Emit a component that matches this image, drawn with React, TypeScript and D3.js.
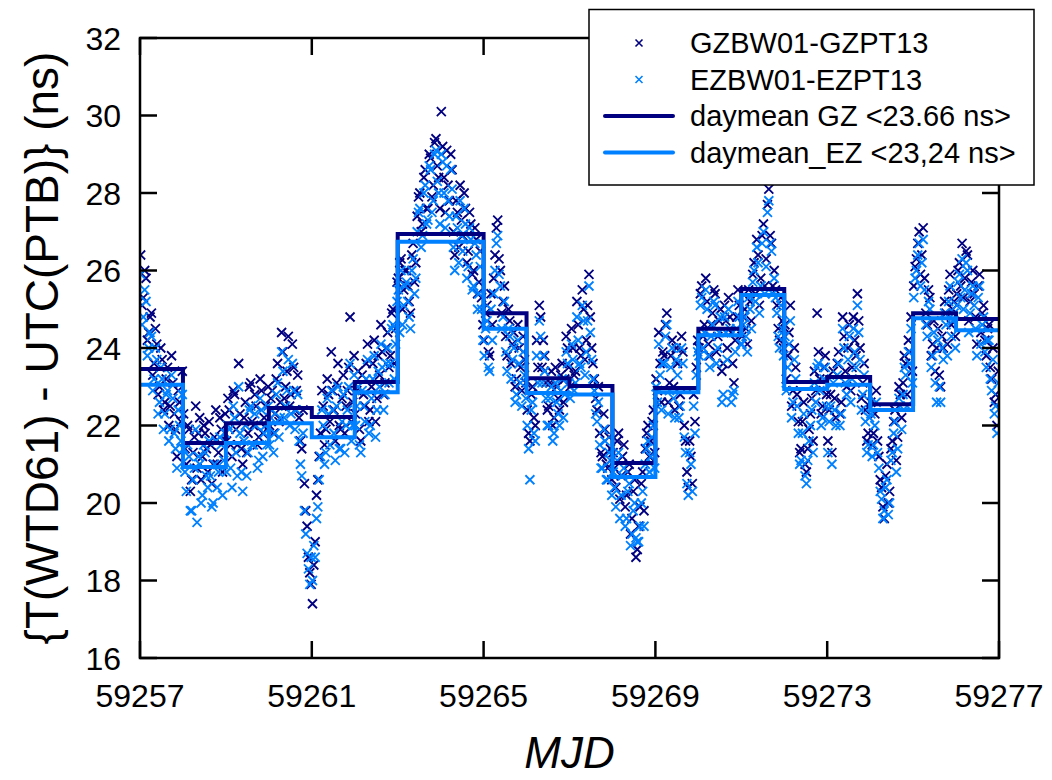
import React from "react";
import * as d3 from "d3";

const width = 1052,
  height = 780;
const plot = { left: 140, right: 999, top: 38, bottom: 658 };

const xTicks = [59257, 59261, 59265, 59269, 59273, 59277];
const yTicks = [16, 18, 20, 22, 24, 26, 28, 30, 32];
const days = d3.range(59257, 59277);

// daily means, one per MJD day
const gzDaymean = [23.46, 21.55, 22.06, 22.45, 22.22, 23.12, 26.94, 26.94, 24.9, 23.22, 23.02, 21.03, 22.97, 24.5, 25.52, 23.12, 23.25, 22.55, 24.9, 24.75];
const ezDaymean = [23.05, 20.93, 21.55, 22.06, 21.7, 22.86, 26.74, 26.74, 24.5, 22.84, 22.8, 20.67, 22.86, 24.33, 25.37, 22.94, 23.05, 22.4, 24.77, 24.46];

// samples, 16 per day (every 1.5 h)
const gzSamples = [
  [26.4, 25.3, 25.8, 24.4, 24.9, 23.6, 24.1, 23.0, 23.7, 22.6, 23.5, 22.5, 23.1, 21.9, 22.9, 22.1],
  [22.3, 21.0, 21.9, 20.6, 21.7, 20.9, 22.2, 21.2, 21.8, 20.8, 21.5, 21.0, 22.4, 21.3, 21.9, 21.6],
  [21.6, 22.4, 21.2, 22.8, 21.5, 22.3, 21.0, 22.6, 21.8, 23.1, 22.0, 22.5, 21.7, 22.9, 22.2, 21.9],
  [22.0, 22.9, 22.3, 23.6, 22.6, 23.9, 23.0, 24.3, 22.8, 23.5, 22.9, 22.2, 21.4, 20.5, 19.4, 18.2],
  [17.4, 19.0, 20.6, 21.8, 22.5, 21.9, 22.8, 23.9, 22.4, 23.1, 22.0, 22.7, 21.8, 22.9, 24.8, 22.6],
  [22.3, 23.4, 21.6, 22.8, 23.6, 22.1, 23.0, 24.2, 22.7, 23.3, 23.9, 23.1, 24.4, 23.8, 25.0, 24.5],
  [25.8, 26.3, 25.5, 26.0, 25.2, 26.4, 25.7, 27.4, 28.0, 27.2, 28.6, 27.6, 28.9, 28.2, 29.4, 28.4],
  [30.1, 28.4, 29.1, 27.8, 28.6, 26.4, 27.5, 28.2, 26.9, 27.6, 26.5, 27.2, 26.0, 26.8, 25.7, 25.3],
  [24.2, 25.1, 23.8, 24.6, 26.4, 27.3, 26.0, 25.2, 24.3, 25.0, 23.6, 24.4, 23.2, 24.0, 22.9, 23.7],
  [22.4, 21.6, 23.0, 22.0, 23.5, 24.8, 24.2, 23.1, 22.5, 23.4, 22.2, 23.0, 22.4, 23.6, 23.2, 24.0],
  [23.0, 24.0, 23.4, 24.6, 23.8, 25.0, 24.2, 25.9, 24.0, 23.2, 22.4, 21.8, 21.2, 21.9, 20.9, 21.4],
  [21.3, 20.4, 21.8, 20.7, 21.5, 20.2, 21.0, 19.6, 20.6, 18.8, 19.9, 20.8, 21.4, 22.0, 21.6, 22.4],
  [23.2, 24.4, 22.6, 23.8, 24.9, 23.1, 24.2, 22.4, 23.6, 22.8, 23.9, 21.6, 20.4, 21.2, 22.8, 23.5],
  [24.0, 25.6, 24.6, 25.2, 23.8, 24.9, 25.4, 24.3, 25.0, 23.6, 24.7, 25.3, 24.4, 23.1, 24.8, 25.1],
  [24.3, 25.0, 24.1, 25.2, 25.9, 25.4, 26.4, 25.8, 27.2, 26.3, 28.1, 26.7, 26.0, 25.1, 24.2, 24.7],
  [24.6, 23.8, 25.1, 22.9, 23.5, 22.1, 21.4, 22.6, 20.8, 21.9, 22.7, 23.4, 24.9, 23.2, 22.5, 23.8],
  [21.6, 22.8, 23.4, 22.2, 23.9, 22.6, 24.3, 23.0, 24.6, 23.5, 24.2, 25.4, 24.0, 23.1, 22.4, 21.8],
  [22.6, 21.8, 22.9, 21.2, 20.4, 19.6, 21.0, 20.3, 21.6, 22.4, 21.7, 22.8, 23.1, 23.6, 24.2, 24.8],
  [25.6, 26.3, 27.0, 26.4, 25.8, 24.6, 25.3, 24.1, 23.4, 24.5, 23.0, 24.0, 24.9, 25.5, 24.6, 25.2],
  [25.4, 26.2, 26.7, 25.8, 26.4, 25.2, 26.0, 24.8, 25.6, 24.4, 25.1, 23.8, 24.6, 23.2, 22.6, 22.0],
];

// extra GZ samples, offset by 45 min from the ones above
const gzSamplesB = [
  [25.1, 26.0, 24.2, 24.8, 23.3, 24.5, 22.8, 24.0, 22.4, 23.2, 22.0, 23.8, 22.3, 21.2, 22.6, 23.4],
  [21.4, 22.0, 20.3, 21.3, 22.5, 21.8, 20.6, 22.0, 21.4, 22.1, 20.5, 21.7, 21.0, 22.2, 20.8, 22.3],
  [22.7, 21.5, 22.9, 21.9, 23.6, 21.4, 22.2, 21.3, 23.0, 22.1, 22.8, 21.5, 23.2, 21.8, 22.5, 23.0],
  [22.7, 21.8, 23.2, 22.1, 24.4, 22.7, 23.4, 22.5, 24.1, 22.4, 23.3, 21.6, 22.4, 19.8, 18.6, 17.9],
  [18.4, 20.2, 21.2, 22.9, 21.5, 23.2, 22.1, 22.9, 21.6, 23.6, 21.9, 23.3, 22.5, 23.5, 22.1, 23.8],
  [22.9, 21.9, 23.3, 22.5, 24.1, 22.4, 23.6, 22.1, 23.8, 24.6, 22.8, 24.0, 23.5, 24.9, 23.6, 25.7],
  [26.2, 25.0, 26.0, 25.6, 24.9, 26.7, 26.2, 27.9, 27.0, 28.4, 27.6, 29.0, 27.9, 29.3, 28.7, 27.6],
  [29.2, 27.5, 28.2, 29.0, 27.0, 27.8, 26.6, 27.3, 28.0, 26.2, 27.5, 25.9, 27.1, 25.4, 26.5, 24.6],
  [24.9, 23.9, 25.4, 25.8, 27.1, 26.3, 24.9, 25.6, 23.8, 24.7, 24.1, 23.0, 24.6, 23.5, 24.3, 23.1],
  [21.8, 22.8, 22.2, 24.2, 25.1, 23.5, 23.8, 22.4, 23.1, 22.0, 23.5, 22.7, 23.3, 22.6, 24.3, 23.5],
  [24.5, 23.3, 25.2, 24.0, 25.5, 23.7, 25.1, 24.8, 23.6, 22.7, 23.0, 21.3, 22.3, 21.0, 21.7, 20.6],
  [20.9, 21.6, 20.1, 21.2, 19.9, 20.8, 19.2, 20.3, 18.6, 19.4, 20.5, 19.8, 21.8, 21.2, 22.1, 21.3],
  [22.9, 23.6, 23.9, 24.6, 22.6, 23.8, 23.0, 24.0, 22.5, 24.3, 22.0, 20.8, 21.6, 20.5, 22.1, 24.2],
  [25.4, 24.3, 25.8, 24.1, 24.6, 25.5, 23.9, 24.7, 23.4, 25.1, 24.0, 24.8, 23.6, 24.2, 25.5, 24.4],
  [24.8, 24.5, 25.5, 24.7, 26.2, 26.8, 25.1, 26.9, 25.6, 27.7, 26.9, 25.6, 25.5, 24.5, 25.3, 24.0],
  [23.2, 24.4, 22.5, 24.0, 22.8, 21.3, 22.1, 21.0, 21.4, 22.3, 21.6, 22.9, 23.9, 22.3, 23.5, 22.8],
  [22.4, 21.3, 22.7, 23.6, 22.3, 24.8, 23.4, 24.0, 22.9, 24.8, 23.8, 24.7, 22.7, 23.6, 21.6, 22.5],
  [21.5, 22.3, 21.6, 20.6, 19.9, 20.7, 20.0, 21.4, 22.1, 21.1, 23.0, 22.2, 23.8, 22.8, 23.9, 23.4],
  [26.1, 26.7, 25.9, 27.1, 24.9, 25.5, 23.8, 24.7, 24.0, 23.3, 24.3, 25.2, 24.1, 25.9, 25.0, 24.3],
  [26.0, 25.6, 25.3, 26.5, 24.7, 25.7, 25.4, 24.1, 25.9, 24.9, 24.2, 24.5, 23.5, 24.0, 22.8, 23.4],
];

const ezSamples = [
  [25.9, 24.8, 25.2, 24.0, 24.3, 23.2, 23.7, 22.6, 23.2, 22.3, 22.9, 21.9, 22.7, 21.4, 22.4, 21.6],
  [21.4, 20.3, 21.2, 19.8, 20.9, 19.5, 21.0, 20.2, 21.3, 20.4, 20.7, 20.0, 21.6, 20.8, 21.5, 21.1],
  [20.8, 21.9, 20.4, 22.2, 20.7, 21.8, 20.3, 22.0, 21.3, 22.5, 21.5, 22.0, 21.1, 22.4, 21.8, 21.5],
  [21.5, 22.4, 21.8, 23.1, 22.2, 23.4, 22.5, 23.7, 22.3, 22.9, 22.4, 21.6, 20.7, 19.8, 18.7, 17.9],
  [18.0, 18.6, 19.9, 21.2, 22.0, 21.3, 22.3, 22.9, 21.8, 22.5, 21.4, 22.1, 21.3, 22.4, 23.6, 22.0],
  [22.0, 23.0, 21.3, 22.5, 23.2, 21.8, 22.7, 23.8, 22.4, 23.0, 23.5, 22.8, 24.0, 23.6, 24.6, 24.1],
  [25.5, 26.0, 25.1, 25.7, 24.8, 26.0, 25.4, 27.0, 27.6, 26.9, 28.2, 27.3, 28.6, 27.8, 29.1, 28.0],
  [29.0, 28.0, 28.7, 27.4, 28.1, 26.0, 27.1, 27.8, 26.5, 27.2, 26.1, 26.8, 25.6, 26.4, 25.4, 25.0],
  [23.8, 24.7, 23.4, 24.2, 26.0, 26.9, 25.6, 24.8, 23.9, 24.5, 23.2, 24.0, 22.8, 23.6, 22.5, 23.3],
  [22.0, 20.6, 22.6, 21.6, 23.1, 24.3, 23.8, 22.7, 22.0, 23.0, 21.8, 22.6, 22.0, 23.2, 22.8, 23.6],
  [22.7, 23.7, 23.1, 24.2, 23.5, 24.7, 23.9, 25.6, 23.7, 22.9, 22.1, 21.5, 20.9, 21.6, 20.6, 21.1],
  [20.8, 19.9, 21.3, 20.2, 20.9, 19.6, 20.5, 19.2, 20.0, 19.0, 19.4, 20.3, 21.0, 21.6, 21.2, 22.0],
  [23.0, 24.1, 22.4, 23.6, 24.6, 22.9, 24.0, 22.2, 23.3, 22.5, 23.6, 21.3, 20.2, 21.0, 22.5, 23.3],
  [23.8, 25.3, 24.4, 25.0, 23.5, 24.6, 25.1, 24.0, 24.8, 22.8, 24.4, 25.0, 22.6, 22.9, 24.5, 24.8],
  [24.1, 24.8, 23.9, 25.0, 25.7, 25.2, 26.2, 25.6, 27.0, 26.1, 27.8, 26.5, 25.8, 24.9, 24.0, 24.5],
  [24.3, 23.5, 24.7, 22.6, 23.2, 21.8, 21.1, 22.3, 20.5, 21.6, 22.4, 23.1, 23.5, 22.9, 22.2, 23.5],
  [21.3, 22.5, 23.1, 22.0, 23.6, 22.3, 24.0, 22.8, 24.3, 23.2, 23.9, 25.1, 23.7, 22.8, 22.1, 21.5],
  [22.3, 21.5, 22.6, 20.9, 20.1, 19.8, 20.6, 20.0, 21.3, 22.1, 21.4, 22.5, 22.8, 23.3, 23.9, 24.5],
  [25.3, 26.0, 26.7, 26.2, 25.5, 24.3, 25.0, 23.8, 23.1, 24.2, 22.6, 23.7, 24.6, 25.2, 24.3, 24.9],
  [25.1, 25.9, 26.3, 25.5, 26.0, 24.9, 25.6, 24.5, 25.3, 24.1, 24.8, 23.5, 24.2, 22.9, 22.3, 21.8],
];

// extra EZ samples, offset by 45 min from the ones above
const ezSamplesB = [
  [24.6, 25.5, 23.8, 24.4, 22.9, 24.0, 22.3, 23.5, 21.9, 22.8, 21.6, 23.3, 21.8, 20.9, 22.0, 22.8],
  [20.8, 21.5, 19.8, 20.6, 21.9, 21.2, 20.0, 21.5, 20.7, 21.6, 19.9, 21.0, 20.4, 21.7, 20.2, 21.8],
  [22.0, 20.9, 22.5, 21.3, 23.0, 20.8, 21.6, 20.7, 22.4, 21.5, 22.3, 20.9, 22.7, 21.2, 22.0, 22.5],
  [22.2, 21.3, 22.8, 21.7, 23.9, 22.2, 22.9, 22.0, 23.6, 21.9, 22.8, 21.0, 21.8, 19.2, 18.3, 18.6],
  [18.9, 19.6, 20.6, 22.4, 21.0, 22.7, 21.5, 22.4, 21.1, 23.0, 21.4, 22.8, 22.0, 23.0, 21.6, 23.3],
  [22.5, 21.5, 22.9, 22.1, 23.7, 22.0, 23.2, 21.7, 23.4, 24.1, 22.4, 23.6, 23.1, 24.5, 23.2, 25.2],
  [24.4, 24.6, 25.6, 25.2, 24.5, 26.3, 25.8, 27.5, 26.6, 28.0, 27.2, 28.7, 27.5, 29.0, 28.3, 27.2],
  [28.8, 27.1, 27.8, 28.6, 26.6, 27.4, 26.2, 26.9, 27.6, 25.8, 27.1, 25.5, 26.7, 25.0, 26.1, 24.2],
  [24.5, 23.5, 25.0, 25.4, 26.7, 25.9, 24.5, 25.2, 23.4, 24.3, 23.7, 22.6, 24.2, 23.1, 23.9, 22.7],
  [21.4, 22.4, 21.8, 23.8, 24.7, 23.1, 23.4, 22.0, 22.7, 21.6, 23.1, 22.3, 22.9, 22.2, 23.9, 23.1],
  [24.1, 22.9, 24.8, 23.6, 25.1, 23.3, 24.7, 24.4, 23.2, 22.3, 22.6, 20.9, 21.9, 20.6, 21.3, 20.2],
  [20.4, 21.1, 19.6, 20.7, 19.4, 20.3, 18.9, 19.8, 19.1, 19.0, 20.0, 19.4, 21.4, 20.8, 21.7, 20.9],
  [22.6, 23.3, 23.6, 24.3, 22.3, 23.5, 22.7, 23.7, 22.2, 24.0, 21.7, 20.5, 21.3, 20.3, 21.8, 23.9],
  [25.1, 24.0, 25.5, 23.8, 24.3, 25.2, 23.6, 24.4, 22.6, 24.8, 23.7, 24.5, 22.8, 23.9, 25.2, 24.1],
  [24.6, 24.3, 25.3, 24.5, 26.0, 26.6, 24.9, 26.7, 25.4, 27.5, 26.7, 25.4, 25.3, 24.3, 25.1, 23.8],
  [22.9, 24.1, 22.2, 23.7, 22.5, 21.0, 21.8, 20.7, 21.1, 22.0, 21.3, 22.6, 23.6, 22.0, 23.2, 22.5],
  [22.1, 21.0, 22.4, 23.3, 22.0, 24.5, 23.1, 23.7, 22.6, 24.5, 23.5, 24.4, 22.4, 23.3, 21.3, 22.2],
  [21.2, 22.0, 21.3, 20.3, 19.6, 20.4, 19.7, 21.1, 21.8, 20.8, 22.7, 21.9, 23.5, 22.5, 23.6, 23.1],
  [25.8, 26.4, 25.6, 26.8, 24.6, 25.2, 23.5, 24.4, 22.6, 23.0, 24.0, 24.9, 23.8, 25.6, 24.7, 24.0],
  [25.7, 25.3, 25.0, 26.2, 24.4, 25.4, 25.1, 23.8, 25.6, 24.6, 23.9, 24.2, 23.2, 23.7, 22.5, 23.1],
];

const legendLabels = ["GZBW01-GZPT13", "EZBW01-EZPT13", "daymean GZ <23.66 ns>", "daymean_EZ <23,24 ns>"];

const GZ_COLOR = "#000080";
const EZ_COLOR = "#0080ff";
const FONT = "'Liberation Sans', Arial, sans-serif";

const x = d3.scaleLinear().domain([59257, 59277]).range([plot.left, plot.right]);
const y = d3.scaleLinear().domain([16, 32]).range([plot.bottom, plot.top]);

const toPoints = (samples: number[][], offset: number) =>
  samples.flatMap((vals, i) =>
    vals.map((v, k) => [days[i] + (k + offset) / vals.length, v] as [number, number])
  );

const stepLine = d3
  .line<[number, number]>()
  .x((d) => x(d[0]))
  .y((d) => y(d[1]))
  .curve(d3.curveStepAfter);

const stepPoints = (means: number[]) => [
  ...means.map((m, i) => [days[i], m] as [number, number]),
  [59277, means[means.length - 1]] as [number, number],
];

const cross = (s: number) => `M${-s},${-s}L${s},${s}M${-s},${s}L${s},${-s}`;

const App = () => {
  const gzPts = [...toPoints(gzSamples, 0.25), ...toPoints(gzSamplesB, 0.75)];
  const ezPts = [...toPoints(ezSamples, 0.25), ...toPoints(ezSamplesB, 0.75)];
  const tickLen = 17;

  return (
    <svg
      width={width}
      height={height}
      style={{ position: "absolute", left: 0, top: 0, background: "#fff" }}
      fontFamily={FONT}
    >
      <defs>
        <clipPath id="plotClip">
          <rect x={plot.left} y={plot.top} width={plot.right - plot.left} height={plot.bottom - plot.top} />
        </clipPath>
      </defs>

      <g clipPath="url(#plotClip)">
        <g stroke={GZ_COLOR} strokeWidth={1.8} fill="none">
          {gzPts.map((p, i) => (
            <path key={`g${i}`} d={cross(4.5)} transform={`translate(${x(p[0])},${y(p[1])})`} />
          ))}
        </g>
        <g stroke={EZ_COLOR} strokeWidth={1.8} fill="none">
          {ezPts.map((p, i) => (
            <path key={`e${i}`} d={cross(4.5)} transform={`translate(${x(p[0])},${y(p[1])})`} />
          ))}
        </g>
        <path d={stepLine(stepPoints(gzDaymean)) || ""} fill="none" stroke={GZ_COLOR} strokeWidth={4} />
        <path d={stepLine(stepPoints(ezDaymean)) || ""} fill="none" stroke={EZ_COLOR} strokeWidth={4} />
      </g>

      {/* frame and inward ticks */}
      <g stroke="#000" strokeWidth={2.5} fill="none">
        <rect x={plot.left} y={plot.top} width={plot.right - plot.left} height={plot.bottom - plot.top} />
        {xTicks.map((t) => (
          <g key={`xt${t}`}>
            <line x1={x(t)} x2={x(t)} y1={plot.bottom} y2={plot.bottom - tickLen} />
            <line x1={x(t)} x2={x(t)} y1={plot.top} y2={plot.top + tickLen} />
          </g>
        ))}
        {yTicks.map((t) => (
          <g key={`yt${t}`}>
            <line x1={plot.left} x2={plot.left + tickLen} y1={y(t)} y2={y(t)} />
            <line x1={plot.right} x2={plot.right - tickLen} y1={y(t)} y2={y(t)} />
          </g>
        ))}
      </g>

      <g fontSize={32} fill="#000">
        {xTicks.map((t) => (
          <text key={`xl${t}`} x={x(t)} y={707} textAnchor="middle">
            {t}
          </text>
        ))}
        {yTicks.map((t) => (
          <text key={`yl${t}`} x={121} y={y(t)} dy="0.36em" textAnchor="end">
            {t}
          </text>
        ))}
      </g>

      <text
        transform={`translate(42,${(plot.top + plot.bottom) / 2}) rotate(-90)`}
        textAnchor="middle"
        dy="0.35em"
        fontSize={46}
      >
        {"{T(WTD61) - UTC(PTB)} (ns)"}
      </text>
      <text x={(plot.left + plot.right) / 2} y={768} textAnchor="middle" fontSize={44} fontStyle="italic">
        MJD
      </text>

      {/* legend */}
      <g>
        <rect x={589} y={9.5} width={445} height={175.5} fill="#fff" stroke="#000" strokeWidth={1.5} />
        {legendLabels.map((label, i) => {
          const cy = 43 + i * 36.5;
          const color = i % 2 === 0 ? GZ_COLOR : EZ_COLOR;
          return (
            <g key={label}>
              {i < 2 ? (
                <path d={cross(3.5)} transform={`translate(639,${cy})`} stroke={color} strokeWidth={1.6} fill="none" />
              ) : (
                <line x1={605} x2={673} y1={cy} y2={cy} stroke={color} strokeWidth={4} strokeLinecap="round" />
              )}
              <text x={690} y={cy} dy="0.36em" fontSize={29}>
                {label}
              </text>
            </g>
          );
        })}
      </g>
    </svg>
  );
};

export default App;
